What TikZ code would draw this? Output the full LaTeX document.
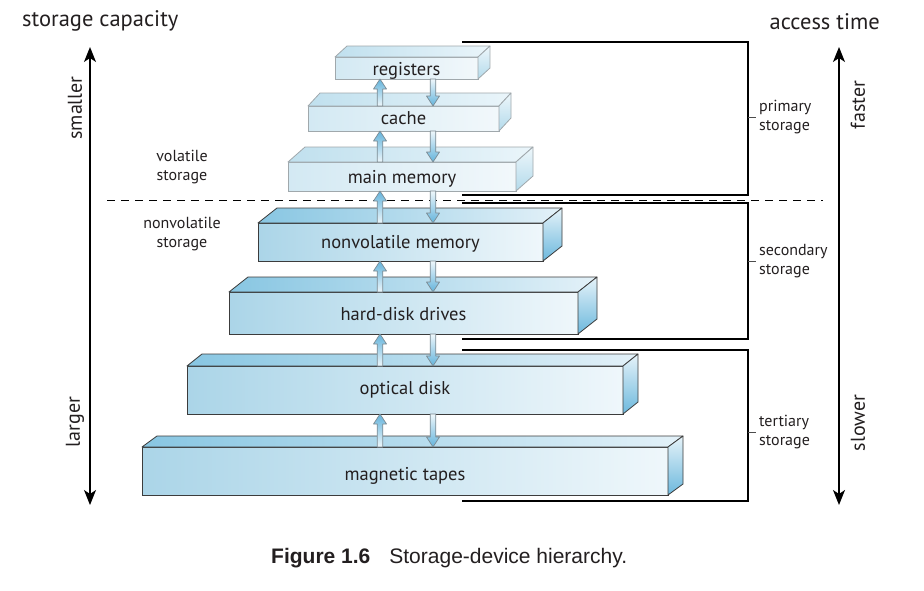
\documentclass[tikz,border=0pt]{standalone}
\usepackage{fontspec}
\setmainfont{PT Sans}
\newfontfamily\capfont{Liberation Sans}
\usetikzlibrary{arrows.meta,calc}
\definecolor{frontPL}{HTML}{D3E9F3}
\definecolor{frontPR}{HTML}{F2F8FB}
\definecolor{topPL}{HTML}{C0E0EE}
\definecolor{topPR}{HTML}{EAF5FA}
\definecolor{sidePT}{HTML}{EEF7FB}
\definecolor{sidePB}{HTML}{B3DAEB}
\definecolor{edgeP}{HTML}{A0A8AC}
\definecolor{frontSL}{HTML}{ABD5E8}
\definecolor{frontSR}{HTML}{EFF7FB}
\definecolor{topSL}{HTML}{88C6E2}
\definecolor{topSR}{HTML}{E3F1F8}
\definecolor{sideST}{HTML}{E6F3F9}
\definecolor{sideSB}{HTML}{6CB8DD}
\definecolor{edgeS}{HTML}{3C3C3C}
\definecolor{arrB}{HTML}{63B3DB}
\definecolor{arrL}{HTML}{EEF7FB}
\definecolor{arrE}{HTML}{7C8A92}
\definecolor{txt}{HTML}{231F20}
\tikzset{
  lbl/.style={font=\fontsize{18.5}{21}\selectfont, text=txt, text height=14pt, text depth=0pt},
  frontP/.style={left color=frontPL,right color=frontPR,draw=edgeP},
  topP/.style={left color=topPL,right color=topPR,draw=edgeP},
  sideP/.style={top color=sidePT,bottom color=sidePB,draw=edgeP},
  frontS/.style={left color=frontSL,right color=frontSR,draw=edgeS},
  topS/.style={left color=topSL,right color=topSR,draw=edgeS},
  sideS/.style={top color=sideST,bottom color=sideSB,draw=edgeS},
  upfat/.style={top color=arrB,bottom color=arrL,draw=arrE,line width=0.7pt},
  dnfat/.style={top color=arrL,bottom color=arrB,draw=arrE,line width=0.7pt},
  brk/.style={draw=black,line width=1.1pt},
  smalltxt/.style={font=\fontsize{16}{19}\selectfont, text=txt, align=left, inner sep=0pt},
  axis/.style={line width=1.5pt, {Stealth[length=15pt,width=12pt,inset=4pt]}-{Stealth[length=15pt,width=12pt,inset=4pt]}},
  rotl/.style={font=\fontsize{20}{22}\selectfont, text=txt, rotate=90, inner sep=0pt},
  head/.style={font=\fontsize{22.5}{26}\selectfont, text=txt, inner sep=0pt}
}
\newcommand\slab[9]{%
  \node[lbl, front#8, line width=0.8pt, inner sep=0pt, outer sep=0pt,
        minimum width={(#4-#2)*1pt}, minimum height={(#5-#3)*1pt}]
        (#1) at ({(#2+#4)/2},{(#3+#5)/2}) {#9};
  \shade[top#8, line width=0.8pt, line join=round] (#1.north west) -- ++(#6,-#7)
        -- ($(#1.north east)+(#6,-#7)$) -- (#1.north east) -- cycle;
  \shade[side#8, line width=0.8pt, line join=round] (#1.north east) -- ++(#6,-#7)
        -- ($(#1.south east)+(#6,-#7)$) -- (#1.south east) -- cycle;
}
\newcommand\uparr[2]{%
  \shade[upfat, line join=round] ($(#1.north -| upx)+(-2.8,0)$) -- ($(#2.south -| upx)+(-2.8,10)$)
    -- ++(-3.7,0) -- (#2.south -| upx) -- ($(#2.south -| upx)+(6.5,10)$) -- ++(-3.7,0)
    -- ($(#1.north -| upx)+(2.8,0)$) -- cycle;
}
\newcommand\dnarr[2]{%
  \shade[dnfat, line join=round] ($(#1.south -| dnx)+(-2.8,0)$) -- ($(#2.north -| dnx)+(-2.8,-10)$)
    -- ++(-3.7,0) -- (#2.north -| dnx) -- ($(#2.north -| dnx)+(6.5,-10)$) -- ++(-3.7,0)
    -- ($(#1.south -| dnx)+(2.8,0)$) -- cycle;
}
\begin{document}
\begin{tikzpicture}[x=1pt,y=-1pt]
\useasboundingbox (0,0) rectangle (924,590);
\fill[white] (0,0) rectangle (924,590);

% headings
\node[head, anchor=west] (cap) at (22,21) {storage capacity};
\node[head, anchor=east] (acc) at (880,22) {access time};

% axes
\coordinate (la1) at (90,47); \coordinate (la2) at (90,505);
\coordinate (ra1) at (839,47); \coordinate (ra2) at (839,505);
\draw[axis] (la1) -- (la2);
\draw[axis] (ra1) -- (ra2);
\node[rotl] (sm) at (75,108) {smaller};
\node[rotl] (lg) at (75,422) {larger};
\node[rotl] (fa) at (858,105) {faster};
\node[rotl] (sl) at (858,423) {slower};

% brackets
\draw[brk] (462,42) -- (748,42) -- (748,195) -- (462,195);
\draw[brk] (462,203) -- (748,203) -- (748,339) -- (462,339);
\draw[brk] (462,350) -- (748,350) -- (748,501) -- (462,501);
\draw[line width=0.8pt, black!70] (748,117) -- (756,117);
\draw[line width=0.8pt, black!70] (748,261) -- (756,261);
\draw[line width=0.8pt, black!70] (748,432) -- (756,432);
\node[smalltxt, anchor=west] (prim) at (759,117) {primary\\storage};
\node[smalltxt, anchor=west] (seco) at (759,261) {secondary\\storage};
\node[smalltxt, anchor=west] (tert) at (759,432) {tertiary\\storage};

% volatile labels
\node[smalltxt, align=center] (vol) at (182,167) {volatile\\storage};
\node[smalltxt, align=center] (nvol) at (182,234) {nonvolatile\\storage};

% dashed divider
\draw[line width=1pt, dash pattern=on 8pt off 6pt] (107,200) -- (823,200);

% slabs
\slab{reg}{335}{57}{478}{79}{12}{11}{P}{registers}
\slab{cac}{308}{106}{499}{131}{12}{13}{P}{\raisebox{1.5pt}{cache}}
\slab{mm}{288}{162}{516}{191}{17}{15}{P}{main memory}
\slab{nvm}{258}{223}{543}{261}{19}{15}{S}{\raisebox{1pt}{nonvolatile memory}}
\slab{hdd}{229}{292}{578}{334}{19}{15}{S}{hard-disk drives}
\slab{opt}{187}{366}{623}{414}{15}{12}{S}{\raisebox{2.5pt}{optical disk}}
\slab{tap}{142}{447}{668}{495}{15}{11}{S}{\raisebox{-2.5pt}{magnetic tapes}}

% transfer arrows
\coordinate (upx) at (380,0);
\coordinate (dnx) at (433,0);
\uparr{cac}{reg} \dnarr{reg}{cac}
\uparr{mm}{cac} \dnarr{cac}{mm}
\uparr{nvm}{mm} \dnarr{mm}{nvm}
\uparr{hdd}{nvm} \dnarr{nvm}{hdd}
\uparr{opt}{hdd} \dnarr{hdd}{opt}
\uparr{tap}{opt} \dnarr{opt}{tap}

% caption
\node[anchor=base west, inner sep=0pt, font=\capfont\fontsize{21}{24}\selectfont, text=txt]
  (fig) at (271,563) {\textbf{Figure 1.6}\hspace{19pt}Storage-device hierarchy.};
\end{tikzpicture}
\end{document}
